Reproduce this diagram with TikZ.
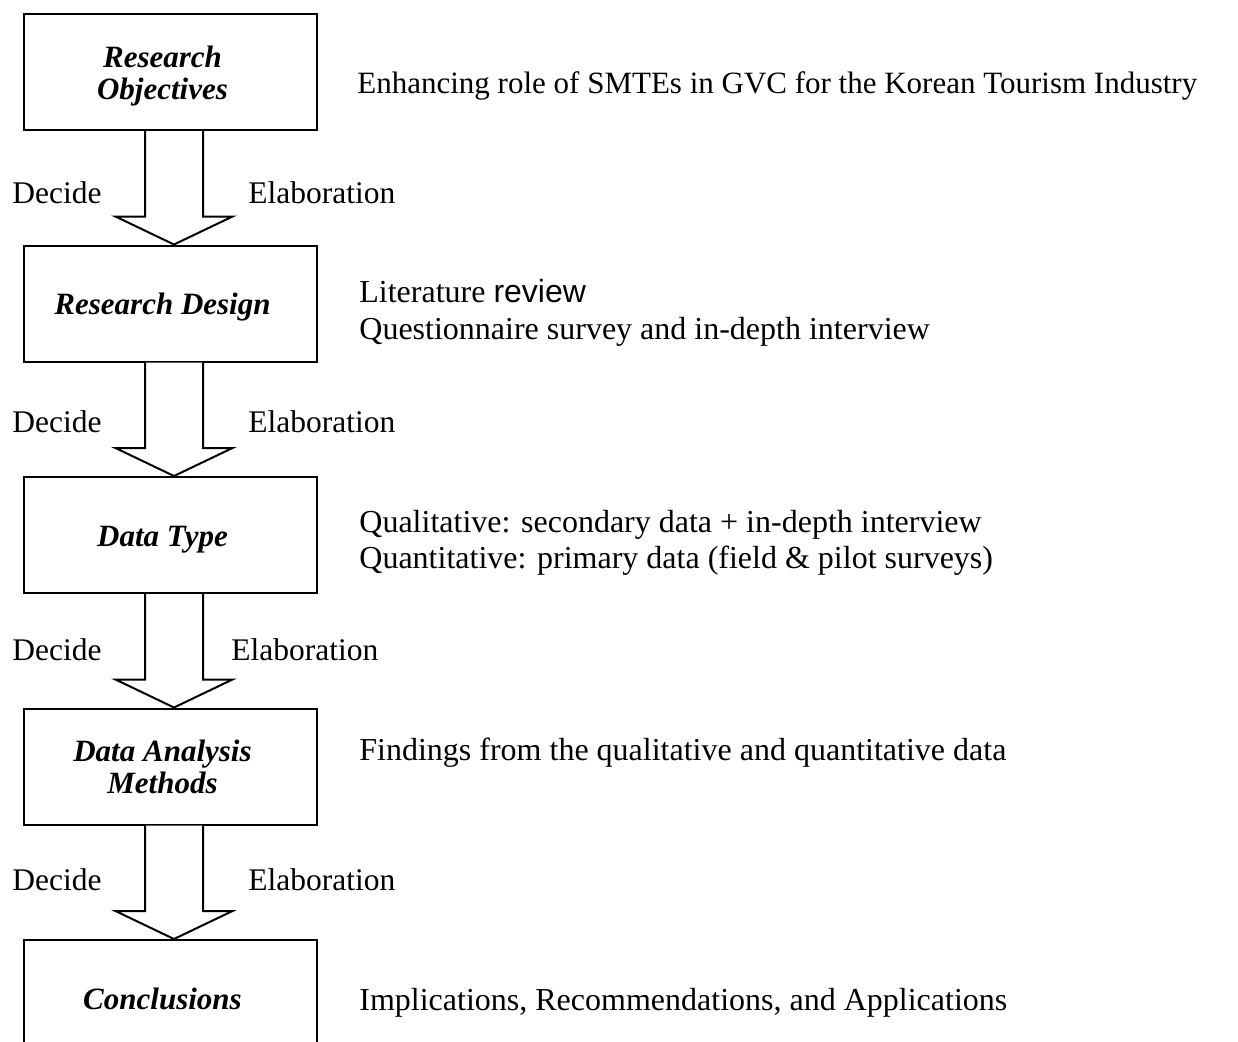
\documentclass[tikz,border=0pt]{standalone}
\usepackage{fontspec}
\setmainfont{Liberation Serif}
\newfontfamily\revfont{Liberation Sans}
\usetikzlibrary{positioning,calc}
\newcommand{\stagetext}[1]{\begin{tabular}{@{}c@{\hspace{8pt}}}\rule{0pt}{16pt}#1\end{tabular}}

\begin{document}
\begin{tikzpicture}[x=0.5pt,y=-0.5pt,font=\fontsize{15.75}{18.5}\selectfont,
  stage/.style={draw,line width=1pt,minimum width=146.5pt,minimum height=58pt,inner sep=0pt,font=\fontsize{15.5}{16}\selectfont\bfseries\itshape},
  note/.style={anchor=base west,inner sep=0pt,font=\fontsize{16}{18.5}\selectfont},
  side/.style={anchor=base west,inner sep=0pt},
  fat/.style={draw,line width=1pt,line join=miter,fill=white}]
\clip (0,0) rectangle (1238,1041);

\node[stage] (obj) at (170.5,72) {\stagetext{Research\\Objectives}};
\node[stage,below=56.75pt of obj] (des) {\stagetext{Research Design}};
\node[stage,below=56.75pt of des] (typ) {\stagetext{Data Type}};
\node[stage,below=56.75pt of typ] (ana) {\stagetext{Data Analysis\\Methods}};
\node[stage,below=56.75pt of ana] (con) {\stagetext{Conclusions}};

\foreach \a/\b in {obj/des,des/typ,typ/ana,ana/con}
  \draw[fat] ($(\a.south)+(-25.5,0)$) -- ($(\b.north)+(-25.5,-28)$) -- ($(\b.north)+(-55,-28)$)
    -- ($(\b.north)+(3.5,0)$) -- ($(\b.north)+(62,-28)$) -- ($(\b.north)+(32.5,-28)$) -- ($(\a.south)+(32.5,0)$);

\foreach \yy/\ex [count=\i] in {203/248,432/248,660/231,890/248}{
  \node[side] (dec\i) at (12,\yy) {Decide};
  \node[side] (ela\i) at (\ex,\yy) {Elaboration};
}

\node[note,font=\fontsize{15.5}{18.5}\selectfont] (n1) at (357,93) {Enhancing role of SMTEs in GVC for the Korean Tourism Industry};
\node[note] (n2) at (359,302) {Literature {\revfont review}};
\node[note] (n3) at (359,339) {Questionnaire survey and in-depth interview};
\node[note] (n4) at (359,532) {Qualitative: secondary data + in-depth interview};
\node[note] (n5) at (359,568) {Quantitative: primary data (field \& pilot surveys)};
\node[note] (n6) at (359,760) {Findings from the qualitative and quantitative data};
\node[note] (n7) at (359,1010) {Implications, Recommendations, and Applications};
\end{tikzpicture}
\end{document}
